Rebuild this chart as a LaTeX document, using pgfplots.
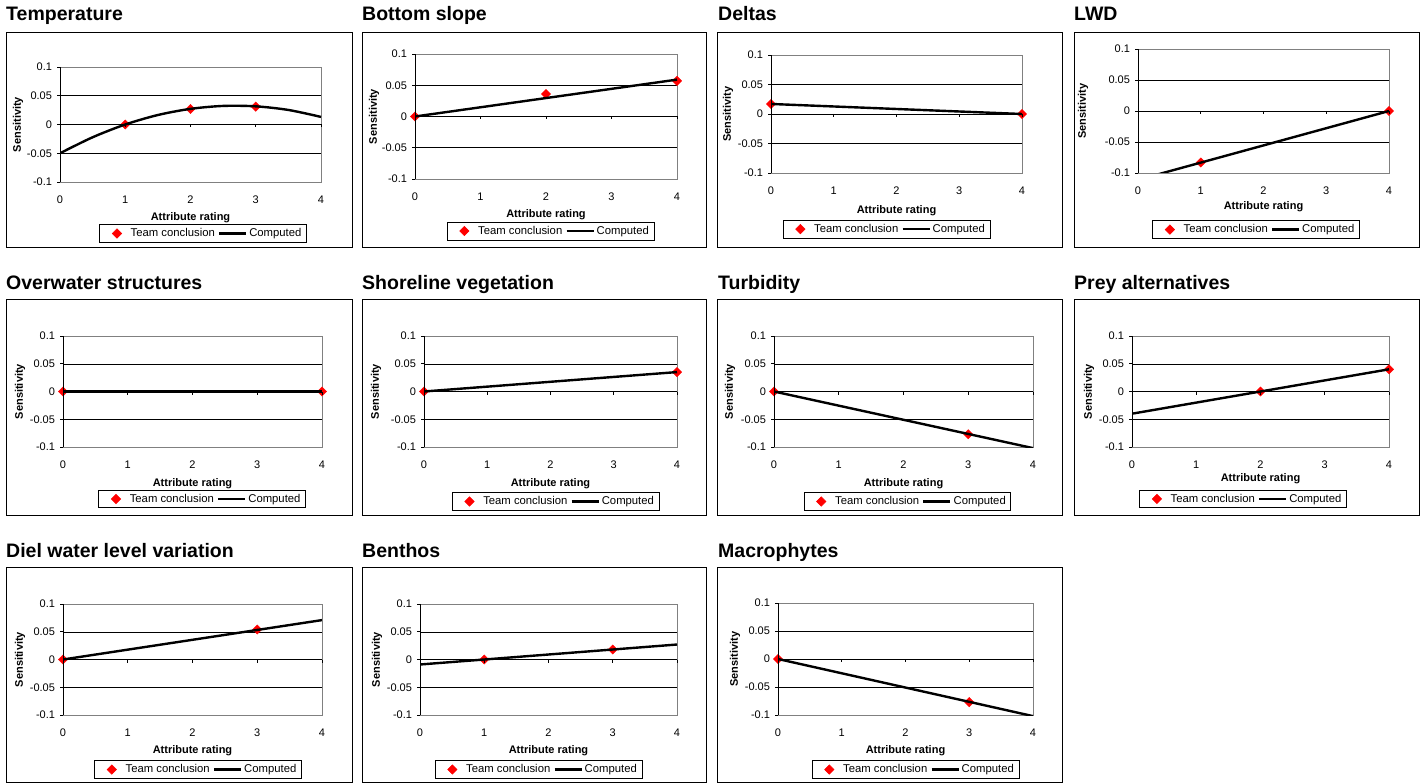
\documentclass[border=0pt]{standalone}
\usepackage{pgfplots}
\pgfplotsset{compat=1.18}
\usepackage{fontspec}
\setmainfont{Liberation Sans}
\newcommand\fs{\fontsize{11}{13}\selectfont}
\newcommand\lfs{\fontsize{11.3}{13}\selectfont}
\newcommand\titlefont{\fontsize{19.5}{22}\selectfont\bfseries}
\pgfplotsset{
  panel/.style={
    scale only axis, anchor=south west,
    xmin=0,xmax=4,ymin=-0.1,ymax=0.1,
    xtick={0,1,2,3,4}, xticklabels={0,1,2,3,4},
    ytick={-0.1,-0.05,0,0.05,0.1}, yticklabels={-0.1,-0.05,0,0.05,0.1},
    ytick pos=left, tick align=outside, major tick length=3pt,
    x tick style={draw=none},
    y tick style={black,line width=0.6pt},
    ymajorgrids, grid style={black,line width=0.5pt},
    axis line style={draw=black!50, line width=0.7pt},
    tick label style={font=\fs},
    xticklabel style={anchor=center, yshift=-15pt},
    yticklabel style={xshift=-1.5pt},
    clip mode=individual,
    legend columns=2,
    legend cell align=left,
    legend style={draw=black, line width=0.6pt, font=\lfs, anchor=center,
      inner xsep=3pt, inner ysep=2pt,
      /tikz/every even column/.append style={column sep=1pt}},
    after end axis/.code={
      \draw[black,line width=0.7pt] (axis cs:0,0) -- (axis cs:4,0);
      \draw[black,line width=0.7pt] (axis cs:0,-0.1) -- (axis cs:0,0.1);
      \draw[black,line width=0.6pt] (axis cs:1,0) -- ++(0,-3pt) (axis cs:2,0) -- ++(0,-3pt) (axis cs:3,0) -- ++(0,-3pt) (axis cs:4,0) -- ++(0,-3pt);
    },
  },
  team/.style={only marks, mark=square*, mark size=3.3pt, mark options={rotate=45, fill=red, draw=red},
    legend image code/.code={\path (-14pt,0pt) (11.5pt,0pt); \draw[##1] plot coordinates {(0pt,0pt)};}},
  comp/.style={black, line width=2.4pt, no marks, legend image code/.code={\draw[##1] (0pt,0pt) -- (27pt,0pt);}},
}
\begin{document}
\begin{tikzpicture}
\useasboundingbox (0,0) rectangle (1427pt,-783pt);
% ---------------- Row 1 ----------------
% Temperature
\node[anchor=base west, inner sep=0pt, font=\titlefont] at (6pt,-21pt) {Temperature};
\draw[black,line width=0.8pt] (6pt,-32pt) rectangle (352pt,-247pt);
\begin{axis}[panel, at={(60pt,-182pt)}, width=261pt, height=115pt,
  legend style={at={(0.548,-0.448)}}]
\addplot[team] coordinates {(1,0) (2,0.027) (3,0.031)};
\addplot[comp, smooth] coordinates {(0,-0.05) (0.5,-0.0222) (1,0) (1.5,0.0165) (2,0.0272) (2.5,0.0323) (3,0.0316) (3.5,0.0253) (4,0.0132)};
\legend{Team conclusion,Computed}
\end{axis}
\node[font=\fs\bfseries] at (190.5pt,-218pt) {Attribute rating};
\node[font=\fs\bfseries, rotate=90] at (18pt,-124.5pt) {Sensitivity};
% Bottom slope
\node[anchor=base west, inner sep=0pt, font=\titlefont] at (362pt,-21pt) {Bottom slope};
\draw[black,line width=0.8pt] (362pt,-32pt) rectangle (706pt,-247pt);
\begin{axis}[panel, at={(415pt,-179pt)}, width=262pt, height=125pt,
  legend style={at={(0.517,-0.416)}}]
\addplot[team] coordinates {(0,0) (2,0.036) (4,0.057)};
\addplot[comp] coordinates {(0,0) (4,0.059)};
\legend{Team conclusion,Computed}
\end{axis}
\node[font=\fs\bfseries] at (546pt,-215pt) {Attribute rating};
\node[font=\fs\bfseries, rotate=90] at (374pt,-116.5pt) {Sensitivity};
% Deltas
\node[anchor=base west, inner sep=0pt, font=\titlefont] at (718pt,-21pt) {Deltas};
\draw[black,line width=0.8pt] (717pt,-32pt) rectangle (1062pt,-247pt);
\begin{axis}[panel, at={(771pt,-173pt)}, width=251pt, height=118pt,
  legend style={at={(0.460,-0.475)}}]
\addplot[team] coordinates {(0,0.017) (4,0)};
\addplot[comp] coordinates {(0,0.017) (4,0)};
\legend{Team conclusion,Computed}
\end{axis}
\node[font=\fs\bfseries] at (896.5pt,-211pt) {Attribute rating};
\node[font=\fs\bfseries, rotate=90] at (728pt,-114pt) {Sensitivity};
% LWD
\node[anchor=base west, inner sep=0pt, font=\titlefont] at (1074pt,-21pt) {LWD};
\draw[black,line width=0.8pt] (1074pt,-32pt) rectangle (1419pt,-247pt);
\begin{axis}[panel, at={(1138pt,-173pt)}, width=251pt, height=124pt,
  legend style={at={(0.470,-0.456)}}]
\addplot[team] coordinates {(1,-0.083) (4,0)};
\addplot[comp] coordinates {(0,-0.111) (4,0)};
\legend{Team conclusion,Computed}
\end{axis}
\node[font=\fs\bfseries] at (1263.5pt,-207pt) {Attribute rating};
\node[font=\fs\bfseries, rotate=90] at (1083pt,-111pt) {Sensitivity};
% ---------------- Row 2 ----------------
% Overwater structures
\node[anchor=base west, inner sep=0pt, font=\titlefont] at (6pt,-290pt) {Overwater structures};
\draw[black,line width=0.8pt] (6pt,-299pt) rectangle (352pt,-515pt);
\begin{axis}[panel, at={(63pt,-447pt)}, width=259pt, height=111pt,
  legend style={at={(0.537,-0.468)}}]
\addplot[team] coordinates {(0,0) (4,0)};
\addplot[comp] coordinates {(0,0) (4,0)};
\legend{Team conclusion,Computed}
\end{axis}
\node[font=\fs\bfseries] at (192.5pt,-484pt) {Attribute rating};
\node[font=\fs\bfseries, rotate=90] at (20pt,-391.5pt) {Sensitivity};
% Shoreline vegetation
\node[anchor=base west, inner sep=0pt, font=\titlefont] at (362pt,-290pt) {Shoreline vegetation};
\draw[black,line width=0.8pt] (362pt,-299pt) rectangle (706pt,-515pt);
\begin{axis}[panel, at={(424pt,-447pt)}, width=253pt, height=111pt,
  legend style={at={(0.520,-0.491)}}]
\addplot[team] coordinates {(0,0) (4,0.035)};
\addplot[comp] coordinates {(0,0) (4,0.035)};
\legend{Team conclusion,Computed}
\end{axis}
\node[font=\fs\bfseries] at (550.5pt,-484pt) {Attribute rating};
\node[font=\fs\bfseries, rotate=90] at (376pt,-391.5pt) {Sensitivity};
% Turbidity
\node[anchor=base west, inner sep=0pt, font=\titlefont] at (718pt,-290pt) {Turbidity};
\draw[black,line width=0.8pt] (717pt,-299pt) rectangle (1062pt,-515pt);
\begin{axis}[panel, at={(774pt,-447pt)}, width=259pt, height=111pt,
  legend style={at={(0.515,-0.491)}}]
\addplot[team] coordinates {(0,0) (3,-0.077)};
\addplot[comp] coordinates {(0,0) (4,-0.102)};
\legend{Team conclusion,Computed}
\end{axis}
\node[font=\fs\bfseries] at (903.5pt,-484pt) {Attribute rating};
\node[font=\fs\bfseries, rotate=90] at (730pt,-391.5pt) {Sensitivity};
% Prey alternatives
\node[anchor=base west, inner sep=0pt, font=\titlefont] at (1074pt,-290pt) {Prey alternatives};
\draw[black,line width=0.8pt] (1074pt,-299pt) rectangle (1419pt,-515pt);
\begin{axis}[panel, at={(1132pt,-447pt)}, width=257pt, height=111pt,
  legend style={at={(0.432,-0.468)}}]
\addplot[team] coordinates {(2,0) (4,0.04)};
\addplot[comp] coordinates {(0,-0.04) (4,0.04)};
\legend{Team conclusion,Computed}
\end{axis}
\node[font=\fs\bfseries] at (1260.5pt,-479pt) {Attribute rating};
\node[font=\fs\bfseries, rotate=90] at (1089pt,-391.5pt) {Sensitivity};
% ---------------- Row 3 ----------------
% Diel water level variation
\node[anchor=base west, inner sep=0pt, font=\titlefont] at (6pt,-557pt) {Diel water level variation};
\draw[black,line width=0.8pt] (6pt,-567pt) rectangle (352pt,-782pt);
\begin{axis}[panel, at={(63pt,-715pt)}, width=259pt, height=111pt,
  legend style={at={(0.521,-0.491)}}]
\addplot[team] coordinates {(0,0) (3,0.054)};
\addplot[comp] coordinates {(0,0) (4,0.071)};
\legend{Team conclusion,Computed}
\end{axis}
\node[font=\fs\bfseries] at (192.5pt,-751pt) {Attribute rating};
\node[font=\fs\bfseries, rotate=90] at (20pt,-659.5pt) {Sensitivity};
% Benthos
\node[anchor=base west, inner sep=0pt, font=\titlefont] at (362pt,-557pt) {Benthos};
\draw[black,line width=0.8pt] (362pt,-567pt) rectangle (706pt,-782pt);
\begin{axis}[panel, at={(420pt,-715pt)}, width=257pt, height=111pt,
  legend style={at={(0.461,-0.491)}}]
\addplot[team] coordinates {(1,0) (3,0.018)};
\addplot[comp] coordinates {(0,-0.009) (4,0.027)};
\legend{Team conclusion,Computed}
\end{axis}
\node[font=\fs\bfseries] at (548.5pt,-751pt) {Attribute rating};
\node[font=\fs\bfseries, rotate=90] at (377pt,-659.5pt) {Sensitivity};
% Macrophytes
\node[anchor=base west, inner sep=0pt, font=\titlefont] at (718pt,-557pt) {Macrophytes};
\draw[black,line width=0.8pt] (717pt,-567pt) rectangle (1062pt,-782pt);
\begin{axis}[panel, at={(778pt,-715pt)}, width=255pt, height=112pt,
  legend style={at={(0.539,-0.487)}}]
\addplot[team] coordinates {(0,0) (3,-0.077)};
\addplot[comp] coordinates {(0,0) (4,-0.102)};
\legend{Team conclusion,Computed}
\end{axis}
\node[font=\fs\bfseries] at (905.5pt,-751pt) {Attribute rating};
\node[font=\fs\bfseries, rotate=90] at (735pt,-659pt) {Sensitivity};
\end{tikzpicture}
\end{document}
